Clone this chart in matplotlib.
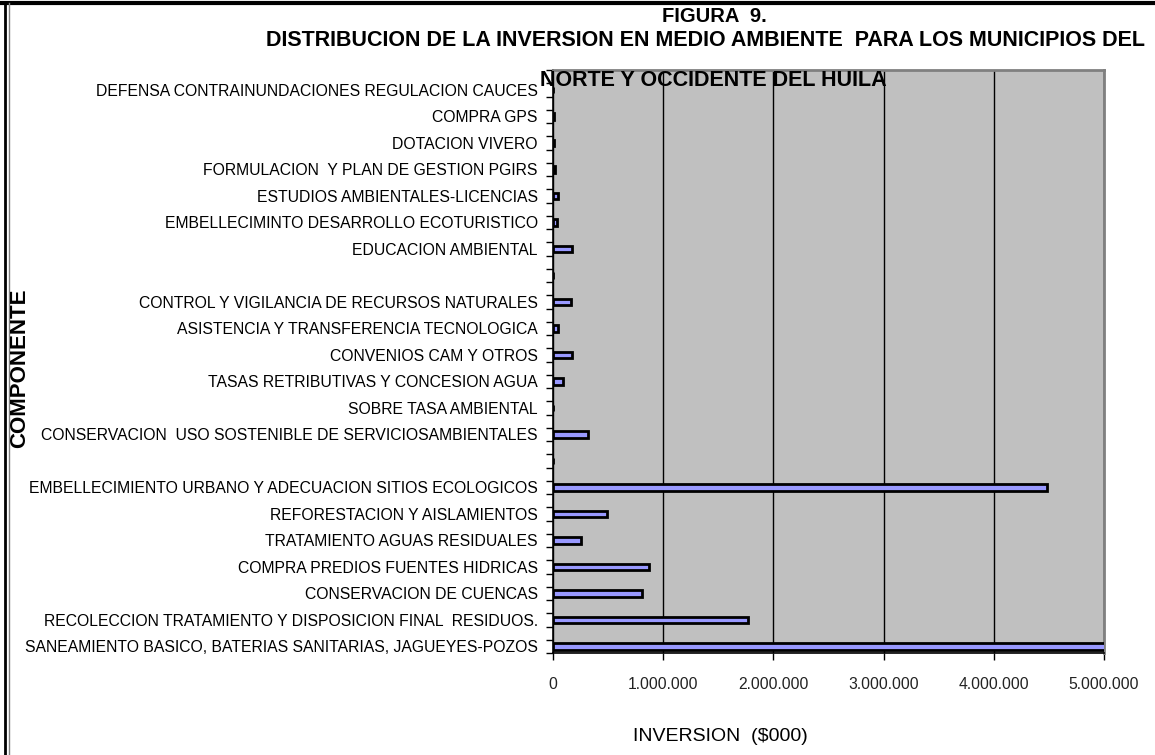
import matplotlib
matplotlib.use('Agg')
import matplotlib.pyplot as plt
from matplotlib.ticker import FuncFormatter, FixedLocator
from matplotlib.lines import Line2D
import numpy as np

plt.rcParams['font.family'] = ['Liberation Sans', 'DejaVu Sans']

# data, top to bottom as in the chart ('' = empty slot)
componentes = [
    'DEFENSA CONTRAINUNDACIONES REGULACION CAUCES',
    'COMPRA GPS',
    'DOTACION VIVERO',
    'FORMULACION  Y PLAN DE GESTION PGIRS',
    'ESTUDIOS AMBIENTALES-LICENCIAS',
    'EMBELLECIMINTO DESARROLLO ECOTURISTICO',
    'EDUCACION AMBIENTAL',
    '',
    'CONTROL Y VIGILANCIA DE RECURSOS NATURALES',
    'ASISTENCIA Y TRANSFERENCIA TECNOLOGICA',
    'CONVENIOS CAM Y OTROS',
    'TASAS RETRIBUTIVAS Y CONCESION AGUA',
    'SOBRE TASA AMBIENTAL',
    'CONSERVACION  USO SOSTENIBLE DE SERVICIOSAMBIENTALES',
    '',
    'EMBELLECIMIENTO URBANO Y ADECUACION SITIOS ECOLOGICOS',
    'REFORESTACION Y AISLAMIENTOS',
    'TRATAMIENTO AGUAS RESIDUALES',
    'COMPRA PREDIOS FUENTES HIDRICAS',
    'CONSERVACION DE CUENCAS',
    'RECOLECCION TRATAMIENTO Y DISPOSICION FINAL  RESIDUOS.',
    'SANEAMIENTO BASICO, BATERIAS SANITARIAS, JAGUEYES-POZOS',
]
# inversion in $000
inversion = [
    0, 10000, 10000, 20000, 45000, 35000, 170000,
    0,
    165000, 45000, 175000, 90000, 0, 320000,
    0,
    4480000, 490000, 255000, 870000, 810000, 1770000, 5300000,
]
xticks_val = [0, 1000000, 2000000, 3000000, 4000000, 5000000]

fig = plt.figure(figsize=(11.55, 7.55), dpi=100)
ax = fig.add_axes([553/1155, 1-653/755, (1104-553)/1155, (653-70)/755])
ax.set_facecolor('#c0c0c0')

n = len(componentes)
ypos = np.arange(n)[::-1]
ax.barh(ypos, inversion, height=0.24, color='#9999ff', edgecolor='black',
        linewidth=2.0, zorder=3)

ax.set_xlim(0, 5000000)
ax.set_ylim(-0.25, n - 0.25)

# x axis
ax.set_xticks(xticks_val)
ax.xaxis.set_major_formatter(FuncFormatter(lambda v, p: '{:,.0f}'.format(v).replace(',', '.')))
ax.tick_params(axis='x', direction='out', length=5, width=1, labelsize=11.3,
               labelcolor='#222222', pad=12)
ax.grid(axis='x', color='black', linewidth=1, zorder=1)

# y axis: labels at slot centres, tick marks between half slots
ax.set_yticks(ypos)
ax.set_yticklabels(componentes)
ax.tick_params(axis='y', which='major', length=0, labelsize=11.3, pad=11)
ax.yaxis.set_minor_locator(FixedLocator(np.arange(-0.25, n, 0.5)))
ax.tick_params(axis='y', which='minor', direction='out', length=5, width=1)

for s in ['left', 'bottom']:
    ax.spines[s].set_color('black')
    ax.spines[s].set_linewidth(1.2)
for s in ['top', 'right']:
    ax.spines[s].set_color('#808080')
    ax.spines[s].set_linewidth(2)

ax.set_xlabel('INVERSION  ($000)', fontsize=14, labelpad=20)
ax.xaxis.set_label_coords((720-553)/(1104-553), -(728-653)/(653-70))
fig.text(20/1155, 1-368/755, 'COMPONENTE', rotation=90, fontsize=16,
         fontweight='bold', ha='center', va='center')

# title
fig.text(714/1155, 1-16/755, 'FIGURA  9.', fontsize=14.5, fontweight='bold',
         ha='center', va='center')
fig.text(705/1155, 1-41/755,
         'DISTRIBUCION DE LA INVERSION EN MEDIO AMBIENTE  PARA LOS MUNICIPIOS DEL',
         fontsize=15.5, fontweight='bold', ha='center', va='center')
fig.text(713/1155, 1-80/755, 'NORTE Y OCCIDENTE DEL HUILA', fontsize=15.5,
         fontweight='bold', ha='center', va='center', zorder=10)

# outer frame
fig.add_artist(Line2D([0, 1], [1-3/755, 1-3/755], color='black', linewidth=3))
fig.add_artist(Line2D([5/1155, 5/1155], [0, 1-3/755], color='black', linewidth=2))
fig.add_artist(Line2D([8.5/1155, 8.5/1155], [0, 1-3/755], color='#808080', linewidth=1))

fig.savefig('out.png', dpi=100)
